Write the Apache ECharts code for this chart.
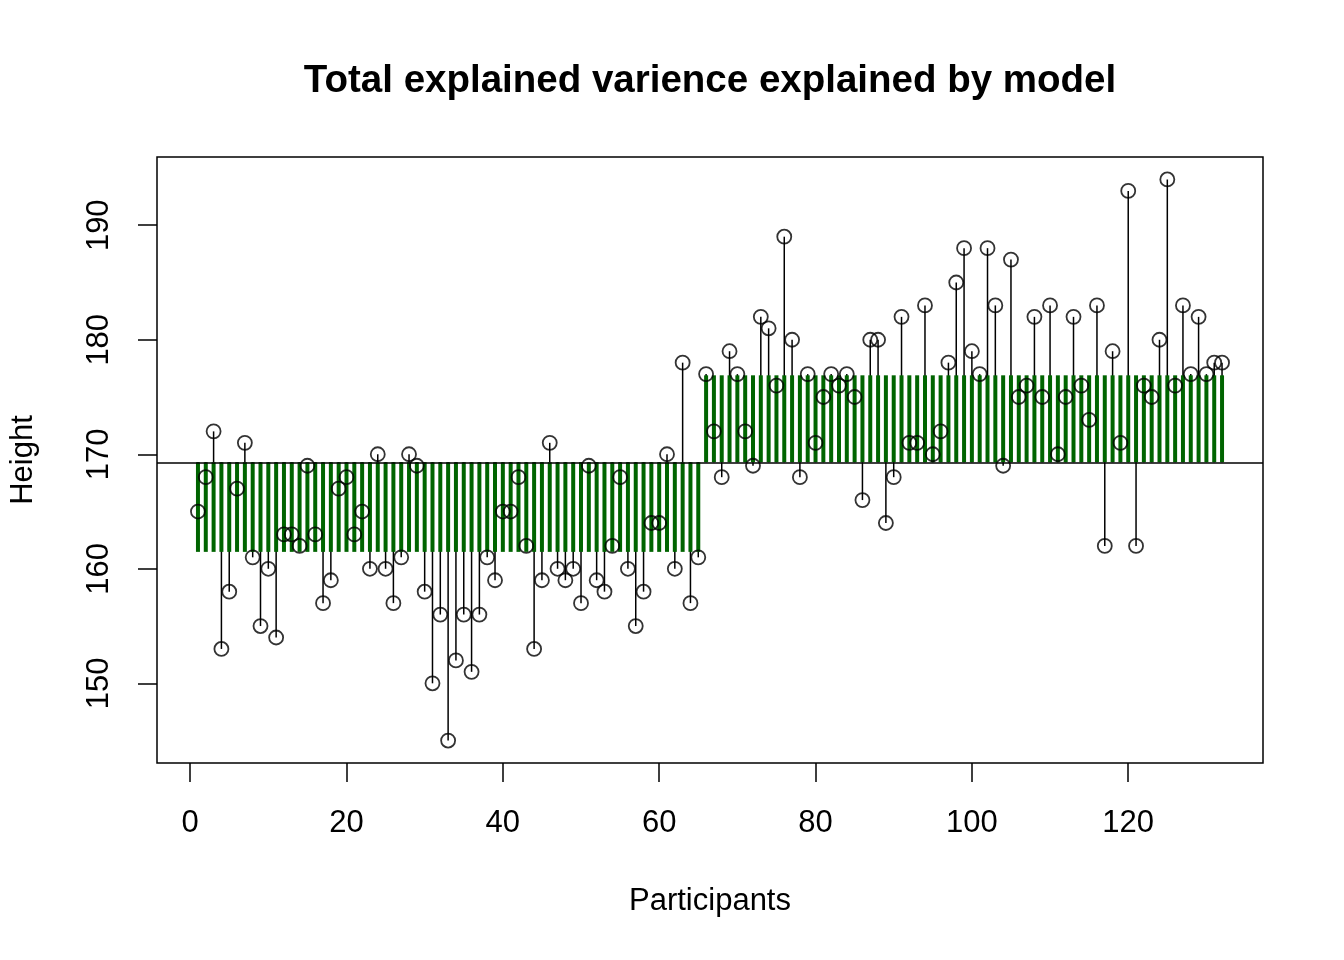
<!DOCTYPE html>
<html>
<head>
<meta charset="utf-8">
<script src="https://cdn.jsdelivr.net/npm/echarts@6/dist/echarts.min.js"></script>
<style>html,body{margin:0;padding:0;background:#fff;}#c{width:1344px;height:960px;}</style>
</head>
<body>
<div id="c"></div>
<script>
// Heights of participants, group A (1-65) and group B (66-132)
const heightsA = [165,168,172,153,158,167,171,161,155,160,
  154,163,163,162,169,163,157,159,167,168,
  163,165,160,170,160,157,161,170,169,158,
  150,156,145,152,156,151,156,161,159,165,
  165,168,162,153,159,171,160,159,160,157,
  169,159,158,162,168,160,155,158,164,164,
  170,160,178,157,161];
const heightsB = [177,172,168,179,177,172,169,182,181,176,
  189,180,168,177,171,175,177,176,177,175,
  166,180,180,164,168,182,171,171,183,170,
  172,178,185,188,179,177,188,183,169,187,
  175,176,182,175,183,170,175,182,176,173,
  183,162,179,171,193,162,176,175,180,194,
  176,183,177,182,177,178,178];
const xTicks = [0, 20, 40, 60, 80, 100, 120];
const yTicks = [150, 160, 170, 180, 190];

const all = heightsA.concat(heightsB);
const n = all.length;
const avg = a => a.reduce((s, v) => s + v, 0) / a.length;
const mA = avg(heightsA), mB = avg(heightsB), mAll = avg(all);
const pts = all.map((h, i) => [i + 1, h]);
const greens = all.map((h, i) => [i + 1, i < heightsA.length ? mA : mB]);
const hMin = Math.min(...all), hMax = Math.max(...all);
const xMin = 1 - 0.04 * (n - 1), xMax = n + 0.04 * (n - 1);
const yMin = hMin - 0.04 * (hMax - hMin), yMax = hMax + 0.04 * (hMax - hMin);

const FONT = '"Liberation Sans", Arial, Helvetica, sans-serif';
const chart = echarts.init(document.getElementById('c'), null, {renderer: 'canvas'});

function segRender(color, width) {
  return function (params, api) {
    const x = api.value(0), y = api.value(1);
    const p1 = api.coord([x, y]);
    const p2 = api.coord([x, mAll]);
    return {
      type: 'line',
      shape: {x1: p1[0], y1: p1[1], x2: p2[0], y2: p2[1]},
      style: {stroke: color, lineWidth: width}
    };
  };
}

chart.setOption({
  animation: false,
  backgroundColor: '#fff',
  textStyle: {fontFamily: FONT, color: '#000'},
  graphic: [{
    type: 'text', x: 710, y: 81,
    style: {text: 'Total explained varience explained by model', font: 'bold 38.5px ' + FONT,
      fill: '#000', textAlign: 'center', textVerticalAlign: 'middle'}
  }],
  grid: {left: 157, right: 81, top: 157, bottom: 197, show: true,
    borderColor: '#000', borderWidth: 1.5, backgroundColor: 'transparent'},
  xAxis: {
    type: 'value', min: xMin, max: xMax,
    name: 'Participants', nameLocation: 'middle', nameGap: 123,
    nameTextStyle: {fontSize: 31, fontFamily: FONT, color: '#000'},
    axisLine: {show: false, onZero: false},
    axisTick: {show: true, inside: false, length: 19, customValues: xTicks,
      lineStyle: {color: '#000', width: 1.5}},
    axisLabel: {show: true, customValues: xTicks, fontSize: 31, fontFamily: FONT,
      color: '#000', margin: 45},
    splitLine: {show: false}
  },
  yAxis: {
    type: 'value', min: yMin, max: yMax,
    name: 'Height', nameLocation: 'middle', nameGap: 118, nameRotate: 90,
    nameTextStyle: {fontSize: 31, fontFamily: FONT, color: '#000'},
    axisLine: {show: false, onZero: false},
    axisTick: {show: true, inside: false, length: 19, customValues: yTicks,
      lineStyle: {color: '#000', width: 1.5}},
    axisLabel: {show: true, customValues: yTicks, fontSize: 31, fontFamily: FONT,
      color: '#000', margin: 42, rotate: 90},
    splitLine: {show: false}
  },
  series: [
    {
      type: 'custom', name: 'stems', data: pts, z: 1,
      renderItem: segRender('#000', 1.5),
      markLine: {
        silent: true, symbol: ['none', 'none'], label: {show: false},
        lineStyle: {color: '#000', width: 1.5, type: 'solid'},
        data: [{yAxis: mAll}], z: 3
      }
    },
    {
      type: 'custom', name: 'model', data: greens, z: 2,
      renderItem: segRender('#006400', 4)
    },
    {
      type: 'scatter', name: 'points', data: pts, z: 4,
      symbol: 'circle', symbolSize: 14,
      itemStyle: {color: 'rgba(0,0,0,0)', borderColor: '#000', borderWidth: 1.8}
    }
  ]
});
</script>
</body>
</html>
